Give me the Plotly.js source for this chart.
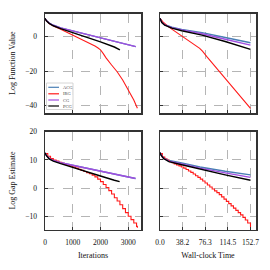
<!DOCTYPE html>
<html><head><meta charset="utf-8">
<script src="https://cdn.plot.ly/plotly-3.0.1.min.js"></script>
<style>html,body{margin:0;padding:0;background:#fff}#chart{width:270px;height:270px}</style>
</head><body><div id="chart"></div>
<script>
// ---- series meta ----
const seriesNames = ['ACG', 'IRG', 'CG', 'PCG'];
const seriesColors = ['#4a7fb5', '#ff1a1a', '#a04ee0', '#000000'];

// ---- Top-left: Log Function Value vs Iterations ----
const fvIterACG_x = [0, 50, 150, 300, 565, 1000, 1500, 2000, 2500, 3000, 3270];
const fvIterACG_y = [10.6, 9.3, 7.9, 6.6, 5.1, 3.4, 1.5, -0.5, -2.5, -4.5, -5.8];
const fvIterCG_x = [0, 50, 150, 300, 565, 1000, 1500, 2000, 2500, 3000, 3270];
const fvIterCG_y = [10.6, 9.3, 7.9, 6.6, 5.1, 3.4, 1.5, -0.5, -2.5, -4.5, -5.8];
const fvIterPCG_x = [0, 50, 150, 300, 565, 1000, 1500, 2000, 2500, 2700];
const fvIterPCG_y = [10.6, 9.2, 7.7, 6.3, 4.6, 2.3, -0.1, -3.0, -6.0, -7.6];
const fvIterIRG_x = [0, 50, 150, 300, 565, 1000, 1300, 1500, 1700, 1800, 1900, 2000, 2100, 2200, 2400, 2600, 2800, 3000, 3200, 3330];
const fvIterIRG_y = [10.6, 9.1, 7.6, 6.2, 4.3, 1.0, -1.3, -2.9, -4.5, -5.4, -6.4, -7.6, -9.8, -12.3, -16.4, -20.3, -25.1, -30.9, -36.7, -41.5];

// ---- Top-right: Log Function Value vs Wall-clock Time ----
const fvTimeACG_x = [0, 3, 8, 20, 36.6, 71, 110, 152.7];
const fvTimeACG_y = [10.6, 8.5, 7.0, 5.5, 4.2, 2.3, -0.5, -3.5];
const fvTimeCG_x = [0, 3, 8, 20, 36.6, 71, 110, 152.7];
const fvTimeCG_y = [10.6, 8.3, 6.8, 5.2, 3.9, 1.7, -1.5, -4.9];
const fvTimePCG_x = [0, 3, 8, 20, 36.6, 71, 110, 152.7];
const fvTimePCG_y = [10.6, 8.2, 6.6, 4.9, 3.4, 0.9, -2.8, -7.4];
const fvTimeIRG_x = [0, 5, 15, 36, 52, 67, 72, 79, 100, 120, 140, 152.7];
const fvTimeIRG_y = [10.6, 8.5, 5.5, 0.5, -3.0, -6.8, -8.5, -11.6, -20.1, -28.2, -36.3, -41.5];

// ---- Bottom-left: Log Gap Estimate vs Iterations ----
const gapIterACG_x = [0, 50, 150, 300, 565, 1000, 1500, 2000, 2500, 3000, 3263];
const gapIterACG_y = [12.5, 11.6, 10.6, 9.8, 9.0, 8.1, 7.0, 6.0, 4.9, 3.9, 3.4];
const gapIterCG_x = [0, 50, 150, 300, 565, 1000, 1500, 2000, 2500, 3000, 3263];
const gapIterCG_y = [12.5, 11.6, 10.6, 9.8, 9.0, 8.1, 7.0, 6.0, 4.9, 3.9, 3.4];
const gapIterPCG_x = [0, 50, 150, 300, 565, 1000, 1500, 2000, 2500, 2690];
const gapIterPCG_y = [12.5, 11.5, 10.4, 9.6, 8.7, 7.3, 5.8, 4.3, 2.8, 2.3];
const gapIterIRG_x = [0, 100, 200, 300, 400, 500, 600, 700, 800, 900, 1000, 1100, 1200, 1300, 1400, 1500, 1600, 1700, 1800, 1900, 2000, 2100, 2200, 2300, 2400, 2500, 2600, 2700, 2800, 2900, 3000, 3100, 3200, 3300, 3330];
const gapIterIRG_y = [12.3, 11.3, 10.5, 10.0, 9.6, 9.2, 8.8, 8.4, 8.1, 7.8, 7.5, 7.1, 6.7, 6.3, 5.9, 5.5, 5.1, 4.6, 4.0, 3.2, 2.3, 1.3, 0.2, -0.9, -2.1, -3.4, -4.6, -5.9, -7.3, -8.7, -10.0, -11.2, -12.4, -13.6, -14.1];

// ---- Bottom-right: Log Gap Estimate vs Wall-clock Time ----
const gapTimeACG_x = [0, 2, 6, 15, 36.6, 67.5, 110, 152.7];
const gapTimeACG_y = [12.6, 11.8, 10.8, 9.8, 8.9, 7.5, 6.0, 4.7];
const gapTimeCG_x = [0, 2, 6, 15, 36.6, 67.5, 110, 152.7];
const gapTimeCG_y = [12.6, 11.7, 10.6, 9.6, 8.6, 7.1, 5.4, 3.8];
const gapTimePCG_x = [0, 2, 6, 15, 36.6, 67.5, 110, 152.7];
const gapTimePCG_y = [12.6, 11.6, 10.5, 9.4, 8.3, 6.7, 4.7, 2.8];
const gapTimeIRG_x = [0, 4, 8, 12, 16, 20, 24, 28, 32, 36, 40, 44, 48, 52, 56, 60, 64, 68, 72, 76, 80, 84, 88, 92, 96, 100, 104, 108, 112, 116, 120, 124, 128, 132, 136, 140, 144, 148, 152.7];
const gapTimeIRG_y = [12.3, 11.0, 10.3, 9.9, 9.4, 9.0, 8.6, 8.2, 7.9, 7.5, 7.1, 6.6, 6.1, 5.6, 5.0, 4.4, 3.8, 3.2, 2.5, 1.8, 1.1, 0.4, -0.3, -1.0, -1.6, -2.3, -3.1, -3.9, -4.7, -5.5, -6.3, -7.1, -7.9, -8.7, -9.5, -10.4, -11.3, -12.4, -13.9];

// ---- ticks ----
const iterTicks = [0, 1000, 2000, 3000];
const iterTickText = ['0', '1000', '2000', '3000'];
const timeTicks = [0, 38.2, 76.3, 114.5, 152.7];
const timeTickText = ['0.0', '38.2', '76.3', '114.5', '152.7'];
const fvTicks = [-40, -20, 0];
const fvTickText = ['\u221240', '\u221220', '0'];
const gapTicks = [-10, 0, 10, 20];
const gapTickText = ['\u221210', '0', '10', '20'];

const FONT = 'Liberation Serif, Times New Roman, serif';
const TXT = '#111111';

function tr(x, y, i, xa, ya, stair) {
  return {
    x: x, y: y, xaxis: xa, yaxis: ya, type: 'scatter', mode: 'lines',
    name: seriesNames[i], showlegend: false,
    line: {color: seriesColors[i], width: i === 1 ? 1.1 : 1.4, shape: stair ? 'hv' : 'linear'},
    hoverinfo: 'skip'
  };
}

const data = [
  tr(fvIterACG_x, fvIterACG_y, 0, 'x', 'y'),
  tr(fvIterIRG_x, fvIterIRG_y, 1, 'x', 'y'),
  tr(fvIterCG_x, fvIterCG_y, 2, 'x', 'y'),
  tr(fvIterPCG_x, fvIterPCG_y, 3, 'x', 'y'),
  tr(fvTimeACG_x, fvTimeACG_y, 0, 'x2', 'y2'),
  tr(fvTimeIRG_x, fvTimeIRG_y, 1, 'x2', 'y2'),
  tr(fvTimeCG_x, fvTimeCG_y, 2, 'x2', 'y2'),
  tr(fvTimePCG_x, fvTimePCG_y, 3, 'x2', 'y2'),
  tr(gapIterACG_x, gapIterACG_y, 0, 'x3', 'y3'),
  tr(gapIterIRG_x, gapIterIRG_y, 1, 'x3', 'y3', true),
  tr(gapIterCG_x, gapIterCG_y, 2, 'x3', 'y3'),
  tr(gapIterPCG_x, gapIterPCG_y, 3, 'x3', 'y3'),
  tr(gapTimeACG_x, gapTimeACG_y, 0, 'x4', 'y4'),
  tr(gapTimeIRG_x, gapTimeIRG_y, 1, 'x4', 'y4', true),
  tr(gapTimeCG_x, gapTimeCG_y, 2, 'x4', 'y4'),
  tr(gapTimePCG_x, gapTimePCG_y, 3, 'x4', 'y4')
];

const W = 270, H = 270;
const px = v => v / W, py = v => 1 - v / H;

function axBase(extra) {
  return Object.assign({
    showline: true, mirror: true, linecolor: '#333', linewidth: 1.5,
    showgrid: true, gridcolor: '#b5b5b5', gridwidth: 1, griddash: 'dash',
    zeroline: false, ticks: 'inside', ticklen: 3, tickcolor: '#333', tickwidth: 1,
    tickfont: {family: FONT, size: 7.5, color: TXT},
    ticklabelstandoff: 5, fixedrange: true
  }, extra);
}

const xL = [px(45), px(141)], xR = [px(160), px(256)];
const yT = [py(113), py(13.5)], yB = [py(229.5), py(131.5)];
const titleFont = {family: FONT, size: 8, color: TXT};

const layout = {
  width: W, height: H, margin: {l: 0, r: 0, t: 0, b: 0},
  paper_bgcolor: '#fff', plot_bgcolor: '#fff', showlegend: false,
  font: {family: FONT, color: TXT},
  xaxis: axBase({domain: xL, anchor: 'y', range: [0, 3460], tickvals: iterTicks, ticktext: iterTickText, showticklabels: false}),
  xaxis2: axBase({domain: xR, anchor: 'y2', range: [0, 162], tickvals: timeTicks, ticktext: timeTickText, showticklabels: false}),
  xaxis3: axBase({domain: xL, anchor: 'y3', range: [0, 3460], tickvals: iterTicks, ticktext: iterTickText,
    title: {text: 'Iterations', font: titleFont, standoff: 6}}),
  xaxis4: axBase({domain: xR, anchor: 'y4', range: [0, 162], tickvals: timeTicks, ticktext: timeTickText,
    title: {text: 'Wall-clock Time', font: titleFont, standoff: 6}}),
  yaxis: axBase({domain: yT, anchor: 'x', range: [-44.2, 13.4], tickvals: fvTicks, ticktext: fvTickText,
    title: {text: 'Log Function Value', font: titleFont, standoff: 8}}),
  yaxis2: axBase({domain: yT, anchor: 'x2', range: [-44.2, 13.4], tickvals: fvTicks, showticklabels: false}),
  yaxis3: axBase({domain: yB, anchor: 'x3', range: [-14.7, 20.1], tickvals: gapTicks, ticktext: gapTickText,
    title: {text: 'Log Gap Estimate', font: titleFont, standoff: 8}}),
  yaxis4: axBase({domain: yB, anchor: 'x4', range: [-14.7, 20.1], tickvals: gapTicks, showticklabels: false}),
  shapes: [], annotations: []
};

// legend (drawn manually in the top-left panel)
const legBox = {x0: px(46.5), x1: px(73), y0: py(109.5), y1: py(83)};
layout.shapes.push({type: 'rect', xref: 'paper', yref: 'paper', x0: legBox.x0, x1: legBox.x1, y0: legBox.y0, y1: legBox.y1,
  line: {color: '#cccccc', width: 0.8}, fillcolor: 'rgba(255,255,255,0.85)', layer: 'above'});
const legRows = [87.3, 93.8, 100, 106];
seriesNames.forEach((n, i) => {
  layout.shapes.push({type: 'line', xref: 'paper', yref: 'paper', x0: px(48.3), x1: px(59), y0: py(legRows[i]), y1: py(legRows[i]),
    line: {color: seriesColors[i], width: 1.2}, layer: 'above'});
  layout.annotations.push({xref: 'paper', yref: 'paper', x: px(60.5), y: py(legRows[i]), xanchor: 'left', yanchor: 'middle',
    text: n, showarrow: false, font: {family: FONT, size: 4.5, color: '#444'}});
});

Plotly.newPlot('chart', data, layout, {staticPlot: true, displayModeBar: false});
</script>
</body></html>
